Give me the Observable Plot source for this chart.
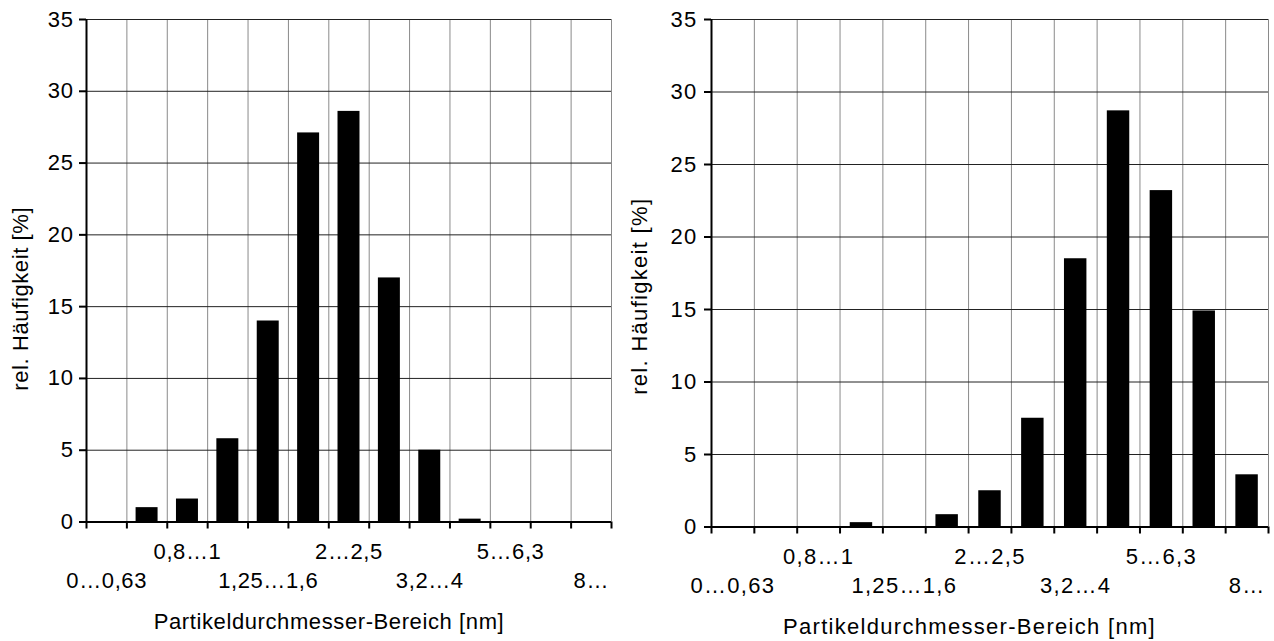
<!DOCTYPE html>
<html><head><meta charset="utf-8">
<script src="https://cdn.jsdelivr.net/npm/d3@7"></script>
<script src="https://cdn.jsdelivr.net/npm/@observablehq/plot@0.6"></script>
<style>
html,body{margin:0;padding:0;background:#fff;overflow:hidden}
#wrap{display:flex;width:1274px;height:641px}
#wrap svg{flex-shrink:0;max-width:none}
</style></head><body><div id="wrap"></div>
<script>
const bins = ["0…0,63","0,63…0,8","0,8…1","1…1,25","1,25…1,6","1,6…2","2…2,5","2,5…3,2","3,2…4","4…5","5…6,3","6,3…8","8…"];
const leftValues  = [0, 1.0, 1.6, 5.8, 14.0, 27.1, 28.6, 17.0, 5.0, 0.2, 0, 0, 0];
const rightValues = [0, 0, 0, 0.3, 0, 0.85, 2.5, 7.5, 18.5, 28.7, 23.2, 14.9, 3.6];
const yTicks = [0, 5, 10, 15, 20, 25, 30, 35];
const labelRow1 = ["0,8…1", "2…2,5", "5…6,3"];
const labelRow2 = ["0…0,63", "1,25…1,6", "3,2…4", "8…"];
const xTitle = "Partikeldurchmesser-Bereich [nm]";
const yTitle = "rel. Häufigkeit [%]";

function panel(values, o) {
  const data = bins.map((b, i) => ({bin: b, i, v: values[i]}));
  const edges = d3.range(bins.length + 1);
  const pos = labels => labels.map(l => bins.indexOf(l) + 0.5);
  const fmt = t => bins[Math.floor(t)];
  return Plot.plot({
    width: o.width, height: 641,
    marginLeft: o.ml, marginRight: o.mr, marginTop: 19, marginBottom: o.mb,
    style: {fontFamily: '"Liberation Sans", Arial, sans-serif', fontSize: "22px", letterSpacing: o.ls, color: "#000", background: "#fff", overflow: "visible"},
    x: {domain: [0, bins.length]},
    y: {domain: [0, 35]},
    marks: [
      Plot.gridX(edges, {stroke: "#8a8a8a", strokeOpacity: 1}),
      Plot.gridY(yTicks, {stroke: "#222", strokeOpacity: 1}),
      Plot.rectY(data, {x1: "i", x2: d => d.i + 1, y: "v", fill: "#000", insetLeft: o.inset, insetRight: o.inset}),
      Plot.ruleX([0], {stroke: "#000", strokeWidth: 2}),
      Plot.ruleY([0], {stroke: "#000", strokeWidth: 2}),
      Plot.axisY(yTicks, {tickSize: 7, tickPadding: o.ytp, strokeWidth: 2, label: null, fontSize: 22}),
      Plot.axisX(edges, {tickSize: 7, strokeWidth: 2, tickFormat: () => "", label: null}),
      Plot.axisX(pos(labelRow1), {tickSize: 0, tickPadding: o.p1, tickFormat: fmt, label: null, fontSize: 22}),
      Plot.axisX(pos(labelRow2), {tickSize: 0, tickPadding: o.p2, tickFormat: fmt, label: null, fontSize: 22}),
      Plot.text([xTitle], {frameAnchor: "bottom", lineAnchor: "middle", textAnchor: "middle", dx: o.xdx, dy: o.xdy, fontSize: 22}),
      Plot.text([yTitle], {frameAnchor: "left", lineAnchor: "middle", textAnchor: "middle", rotate: -90, dx: o.ydx, dy: o.ydy, fontSize: 22})
    ]
  });
}

const wrap = document.getElementById("wrap");
wrap.append(panel(leftValues, {width: 628, ml: 86, mr: 17, mb: 119.5, ls: "0.6px", inset: 9.2, ytp: 6, p1: 21, p2: 50.5, xdx: -20, xdy: 99.5, ydx: -66, ydy: 28}));
wrap.append(panel(rightValues, {width: 646, ml: 83, mr: 6, mb: 114.5, ls: "1.3px", inset: 10.2, ytp: 7, p1: 21, p2: 50.5, xdx: -20.5, xdy: 99.8, ydx: -72, ydy: 23}));
</script>
</body></html>
